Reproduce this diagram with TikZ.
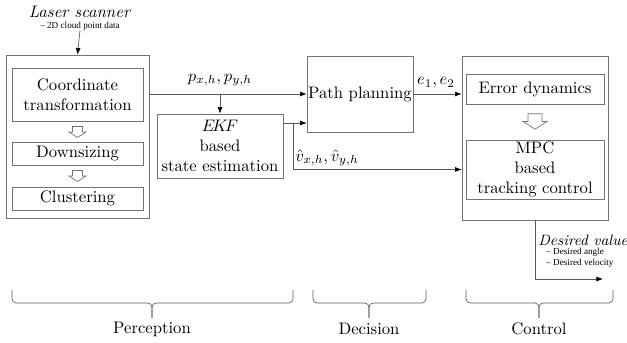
\documentclass[tikz,border=0pt]{standalone}
\usepackage{fontspec}
\newfontfamily\notefont[Ligatures=TeX]{Liberation Serif}
\usetikzlibrary{arrows.meta}
\newcommand{\hollowarrow}[2][1]{%
  \draw[hollow,shift={(#2)},scale=#1] (-5,-5.5) -- (5,-5.5) -- (5,0) -- (8.5,0)
    -- (0,5.5) -- (-8.5,0) -- (-5,0) -- cycle;}
\newcommand{\stagebrace}[3]{%
  \draw[brc] (#1,290) -- (#1,303) -- (#2,303) -- (#2,318);
  \draw[brc] (#3,290) -- (#3,303) -- (#2,303) -- (#2,318);}
\begin{document}
\begin{tikzpicture}[x=0.6pt,y=-0.6pt,
  box/.style={draw=black!55,inner sep=0pt,align=center},
  line/.style={draw=black!65,-{Latex[length=4pt,width=3pt,black]}},
  hollow/.style={draw=black!55,fill=white},
  brc/.style={draw=black!65,rounded corners=2.5pt},
  note/.style={font=\notefont\fontsize{5.5}{6.5}\selectfont}]
 \useasboundingbox (0,0) rectangle (627,342);
 % perception
 \node (laser) at (80,12) {\textit{Laser scanner}};
 \node[note,inner sep=0pt] (cloud) at (80,26) {– 2D cloud point data};
 \node[box,minimum width=85.8pt,minimum height=97.8pt] (perc) at (77.5,136.5) {};
 \node[box,minimum width=78.6pt,minimum height=31.8pt] (ct) at (77.5,94.5) {Coordinate\\transformation};
 \node[box,minimum width=78.6pt,minimum height=13.8pt] (ds) at (77.5,153.5) {Downsizing};
 \node[box,minimum width=78.6pt,minimum height=13.8pt] (cl) at (77.5,198.5) {Clustering};
 \coordinate (a1) at (77.5,132);
 \coordinate (a2) at (77.5,176);
 \node[box,minimum width=75.6pt,minimum height=38.4pt] (ekf) at (220,146) {$E\!K\!F$\\based\\state estimation};
 % decision
 \node[box,minimum width=63.6pt,minimum height=45.6pt] (pp) at (360,94) {Path planning};
 % control
 \node[box,minimum width=87.6pt,minimum height=98.4pt] (ctrl) at (535,138) {};
 \node[box,minimum width=82.8pt,minimum height=18pt] (ed) at (535,89) {Error dynamics};
 \node[box,minimum width=82.8pt,minimum height=35.4pt] (mpc) at (535,169.5) {MPC\\based\\tracking control};
 \coordinate (a3) at (535,121.5);
 \hollowarrow{a1}
 \hollowarrow{a2}
 \hollowarrow[1.4]{a3}
 \node[anchor=west,inner sep=0pt,font=\small] (des) at (538,240) {\textit{Desired value}};
 \node[note,anchor=north west,inner sep=0pt,align=left] (dlist) at (546,248) {– Desired angle\\– Desired velocity};
 % connectors
 \coordinate (br) at (293,123);
 \coordinate (out) at (603,279);
 \draw[line] (cloud.south) -- (perc.north);
 \draw[line] (perc.east |- pp.west) -- (pp.west);
 \draw[line] (ekf.north |- pp.west) -- (ekf.north);
 \draw[draw=black!65] (ekf.east |- br) -- (br);
 \draw[line] (br) -- (pp.west |- br);
 \draw[line] (br) |- (ctrl.west |- mpc.west);
 \draw[line] (pp.east) -- (pp.east -| ctrl.west);
 \draw[line] (ctrl.south) |- (out);
 \node (pxy) at (220,80) {$p_{x,h}, p_{y,h}$};
 \node[anchor=south,inner sep=1pt] (vxy) at (327,168) {$\hat{v}_{x,h}, \hat{v}_{y,h}$};
 \node (e12) at (436,83) {$e_1, e_2$};
 % stages
 \stagebrace{12}{152}{293}
 \stagebrace{313}{369}{426}
 \stagebrace{466}{539}{613}
 \node (lp) at (152,329) {Perception};
 \node (ld) at (369,329) {Decision};
 \node (lc) at (539,329) {Control};
\end{tikzpicture}
\end{document}
